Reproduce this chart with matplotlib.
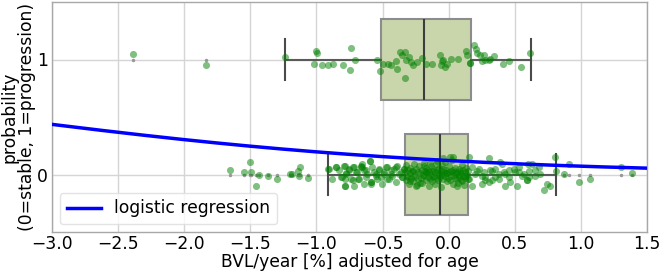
import numpy as np
import matplotlib
matplotlib.use("Agg")
import matplotlib.pyplot as plt

# ---------------- data ----------------
# progression group (y = 1): stripplot points (x value, jittered y)
prog_x = [-2.39, -1.833, -1.238, -1.0, -0.997, -1.017, -0.96,
          -0.909, -0.873, -0.798, -0.735, -0.745, -0.71, -0.54, -0.52,
          -0.494, -0.459, -0.434, -0.40, -0.393,
          -0.368, -0.35, -0.33, -0.30, -0.325, -0.287, -0.268, -0.242,
          -0.333, -0.20, -0.174, -0.124,
          -0.069, -0.054, -0.044, -0.061, -0.024, -0.011, 0.014, 0.072,
          0.132, 0.14, 0.158, 0.165,
          0.19, 0.203, 0.215, 0.24, 0.265, 0.278, 0.303, 0.316, 0.341, 0.253,
          0.409, 0.459, 0.547, 0.618]
prog_y = [1.05, 0.954, 1.026, 1.078, 1.055, 0.957, 0.955,
          0.954, 0.965, 0.948, 1.10, 0.907, 0.997, 1.0, 0.90,
          0.959, 0.959, 0.954, 0.983, 0.919,
          1.067, 1.041, 1.061, 1.026, 0.997, 0.977, 0.948, 0.977,
          0.837, 1.015, 0.963, 0.957,
          1.035, 0.985, 0.997, 0.948, 0.933, 0.957, 1.006, 1.006,
          1.078, 1.035, 0.968, 0.968,
          1.13, 1.093, 1.055, 1.035, 1.041, 0.997, 0.997, 1.006, 1.029, 0.991,
          0.957, 0.991, 0.933, 1.058]

# stable group (y = 0)
stab_x = [-1.652, -1.545, -1.50, -1.494, -1.456, -1.437, -1.366, -1.30, -1.198, -1.185,
          -1.137, -1.13, -1.122, -1.062, -0.916,
          # whisker region (left)
          -0.904, -0.886, -0.853, -0.828, -0.816, -0.785, -0.778, -0.783, -0.753, -0.740,
          -0.723, -0.715, -0.702, -0.682, -0.665, -0.652, -0.640, -0.627, -0.614, -0.594,
          -0.589, -0.564, -0.552, -0.526, -0.514, -0.489, -0.476, -0.464, -0.438, -0.426,
          -0.401, -0.376, -0.350, -0.338,
          -0.853, -0.790, -0.778, -0.753, -0.715, -0.690, -0.665, -0.652, -0.627, -0.594,
          -0.577, -0.552, -0.526, -0.489, -0.464, -0.438, -0.413, -0.388, -0.363, -0.338,
          -0.803, -0.783, -0.727, -0.677, -0.640, -0.589, -0.539, -0.501, -0.451, -0.401,
          -0.350, -0.783, -0.589,
          # box region
          -0.33, -0.325, -0.32, -0.315, -0.31, -0.30, -0.295, -0.29, -0.285, -0.28,
          -0.27, -0.265, -0.26, -0.255, -0.25, -0.24, -0.235, -0.23, -0.225, -0.22,
          -0.21, -0.205, -0.20, -0.195, -0.19, -0.185, -0.18, -0.175, -0.17, -0.165,
          -0.16, -0.155, -0.15, -0.145, -0.14, -0.135, -0.13, -0.125, -0.12, -0.115,
          -0.11, -0.105, -0.10, -0.095, -0.09, -0.085, -0.08, -0.075, -0.07, -0.065,
          -0.06, -0.055, -0.05, -0.045, -0.04, -0.035, -0.03, -0.025, -0.02, -0.015,
          -0.01, -0.005, 0.00, 0.005, 0.01, 0.015, 0.02, 0.025, 0.03, 0.035,
          0.04, 0.045, 0.05, 0.055, 0.06, 0.065, 0.07, 0.075, 0.08, 0.085,
          0.09, 0.095, 0.10, 0.105, 0.11, 0.115, 0.12, 0.125, 0.13, 0.14,
          0.145, 0.15,
          -0.31, -0.27, -0.22, -0.17, -0.12, -0.07, -0.02, 0.03, 0.08, 0.12,
          -0.04, 0.01, -0.09, 0.06, -0.25, -0.29, -0.14, -0.05, 0.10, -0.19,
          # right whisker region
          0.032, 0.152, 0.303, 0.215, 0.253, 0.278, 0.328, 0.354, 0.404, 0.429,
          0.467, 0.505, 0.530, 0.555, 0.593, 0.605, 0.630, 0.655, 0.680, 0.693,
          0.718, 0.743, 0.768, 0.806, 0.813,
          0.316, 0.354, 0.379, 0.416, 0.454, 0.492, 0.529, 0.567, 0.605, 0.655,
          0.177, 0.228, 0.265, 0.177, 0.253, 0.328, 0.429, 0.517, 0.454, 0.379,
          0.303, 0.592, 0.202, 0.278, 0.152, 0.391, 0.60,
          # right outliers
          0.869, 0.907, 0.987, 1.07, 1.304, 1.384]
stab_y = [0.035, 0.02, 0.11, 0.02, -0.096, -0.003, -0.017, -0.037, 0.006, 0.006,
          0.029, -0.015, 0.064, -0.032, 0.05,
          0.050, -0.038, 0.064, 0.035, -0.023, 0.072, 0.012, -0.096, 0.035, -0.038,
          0.064, -0.096, 0.020, -0.038, 0.064, 0.093, 0.035, -0.023, 0.006, 0.116,
          -0.067, 0.020, -0.009, 0.049, -0.023, 0.006, 0.064, -0.038, 0.035, -0.009,
          0.064, 0.006, -0.023, 0.049,
          0.064, 0.078, 0.006, 0.049, 0.064, 0.020, 0.078, 0.064, 0.035, 0.116,
          0.064, 0.006, 0.035, 0.020, 0.064, 0.006, 0.049, 0.078, 0.020, 0.049,
          -0.023, -0.038, -0.052, -0.038, -0.081, -0.067, -0.038, -0.081, -0.038, -0.067,
          -0.023, -0.096, -0.081,
          0.02, -0.05, 0.08, -0.01, 0.04, -0.08, 0.01, 0.06, -0.03, 0.03,
          -0.06, 0.09, 0.00, -0.02, 0.05, -0.09, 0.02, -0.04, 0.07, 0.01,
          -0.03, 0.04, -0.07, 0.00, 0.10, -0.01, 0.03, -0.05, 0.06, 0.01,
          -0.02, 0.04, -0.10, 0.02, -0.04, 0.07, 0.00, -0.06, 0.03, 0.05,
          -0.01, -0.08, 0.02, 0.09, -0.03, 0.04, -0.05, 0.01, 0.06, -0.02,
          0.03, -0.11, 0.00, 0.05, -0.04, 0.02, 0.11, -0.01, 0.04, -0.06,
          0.01, -0.03, 0.07, 0.02, -0.05, 0.03, -0.01, 0.13, -0.08, 0.04,
          0.00, -0.03, 0.06, 0.01, -0.04, 0.02, -0.07, 0.05, -0.02, 0.03,
          -0.05, 0.01, 0.08, -0.01, 0.04, -0.09, 0.02, -0.03, 0.06, 0.00,
          0.03, -0.04,
          -0.02, 0.03, -0.07, 0.02, -0.02, 0.00, 0.01, 0.02, 0.00, -0.01,
          0.14, 0.15, 0.12, -0.10, -0.10, -0.06, 0.10, 0.08, -0.06, 0.07,
          0.156, 0.150, 0.145, 0.034, -0.009, -0.052, 0.034, -0.024, 0.093, 0.006,
          -0.067, 0.020, 0.064, -0.009, -0.052, 0.034, 0.093, -0.009, 0.064, 0.006,
          -0.139, -0.081, -0.096, 0.156, 0.034,
          0.035, 0.049, 0.006, 0.020, 0.035, 0.049, 0.020, 0.006, -0.023, 0.035,
          0.064, 0.049, 0.020, -0.096, -0.081, -0.052, -0.096, -0.096, -0.023, -0.038,
          -0.067, -0.052, 0.006, -0.023, -0.038, 0.107, 0.093,
          0.006, 0.087, -0.067, -0.038, 0.064, 0.014]

# box statistics per group (q1, median, q3, whiskers, outliers)
box_positions = [0, 1]
box_q1 = [-0.33, -0.51]
box_med = [-0.066, -0.19]
box_q3 = [0.145, 0.17]
box_whislo = [-0.91, -1.235]
box_whishi = [0.81, 0.62]
box_fliers = [[-1.652, -1.545, -1.50, -1.494, -1.456, -1.437, -1.366, -1.30,
               -1.198, -1.185, -1.137, -1.13, -1.122, -1.062,
               0.869, 0.907, 0.987, 1.07, 1.304, 1.384],
              [-2.39, -1.833]]

# logistic regression coefficients (intercept, slope)
logit_intercept = -1.98
logit_slope = -0.574

# ---------------- plot ----------------
FS = 12.3
fig = plt.figure(figsize=(6.6, 2.71), dpi=100)
ax = fig.add_axes([52 / 660, 1 - 232 / 271, (647 - 52) / 660, (232 - 2) / 271])

stats = []
for i in range(2):
    stats.append(dict(q1=box_q1[i], med=box_med[i], q3=box_q3[i],
                      whislo=box_whislo[i], whishi=box_whishi[i],
                      fliers=box_fliers[i]))

ax.bxp(stats, positions=box_positions, widths=0.7, orientation='horizontal',
       patch_artist=True, showfliers=True,
       boxprops=dict(facecolor='#c9d6ab', edgecolor='#8c8c8c', linewidth=1.5),
       medianprops=dict(color='#3d3d3d', linewidth=1.5),
       whiskerprops=dict(color='#5a5a5a', linewidth=1.5),
       capprops=dict(color='#4a4a4a', linewidth=1.5),
       flierprops=dict(marker='o', markersize=1.5, markerfacecolor='#999999',
                       markeredgecolor='#999999'),
       zorder=2)

ax.scatter(stab_x, stab_y, s=26, color='green', alpha=0.5, linewidths=0, zorder=3)
ax.scatter(prog_x, prog_y, s=26, color='green', alpha=0.5, linewidths=0, zorder=3)

xs = np.linspace(-3.0, 1.5, 200)
ps = 1.0 / (1.0 + np.exp(-(logit_intercept + logit_slope * xs)))
ax.plot(xs, ps, color='blue', linewidth=2.5, label='logistic regression', zorder=4)

ax.set_xlim(-3.0, 1.5)
ax.set_ylim(-0.5, 1.5)
ax.set_xticks(np.arange(-3.0, 1.51, 0.5))
ax.set_yticks([0, 1])
ax.set_yticklabels(['0', '1'])
ax.tick_params(axis='x', length=0, labelsize=FS, pad=2)
ax.tick_params(axis='y', length=0, labelsize=FS, pad=3)
ax.grid(True, color='#d5d5d5', linewidth=1)
ax.set_axisbelow(True)
for s in ax.spines.values():
    s.set_color('#a8a8a8')
    s.set_linewidth(1)

ax.set_xlabel('BVL/year [%] adjusted for age', fontsize=FS, labelpad=0)
ax.set_ylabel('probability\n(0=stable, 1=progression)', fontsize=FS,
              linespacing=1.0, va='center', ha='center')
ax.yaxis.set_label_coords(-0.057, 0.5)

leg = ax.legend(loc='lower left', fontsize=FS, frameon=True, fancybox=True,
                borderaxespad=0.45, handlelength=2.0)
leg.get_frame().set_edgecolor('#dddddd')

fig.savefig('out.png', dpi=100)
